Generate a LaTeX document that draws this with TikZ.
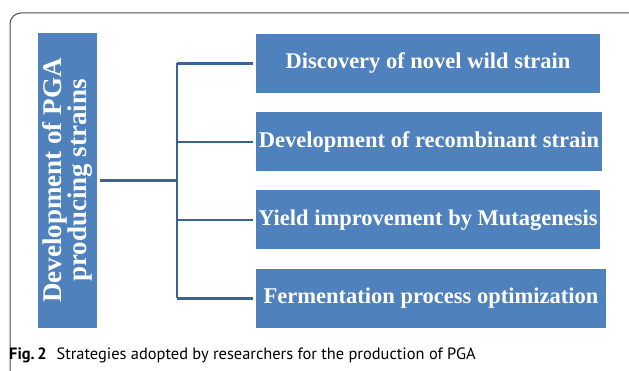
\documentclass[tikz,border=0pt]{standalone}
\usepackage{fontspec}
\setmainfont{Liberation Serif}
\newfontfamily\capfont{PT Sans}
\definecolor{boxblue}{HTML}{4F81BD}
\definecolor{linkblue}{HTML}{3B6496}
\begin{document}
\begin{tikzpicture}[x=1pt, y=1pt, line join=round,
	box/.style={fill=boxblue, text=white, inner sep=0pt, minimum height=59, font=\bfseries\fontsize{22.5}{25}\selectfont},
	link/.style={draw=linkblue, line width=2.6pt},
	frame/.style={draw=black!70, line width=1pt, rounded corners=11pt}]
	\useasboundingbox (0,0) rectangle (629,371);
	\draw[frame] (10,-20) -- (10,358) -- (640,358) -- (640,-20);
	\node[box, rotate=90, minimum width=295, align=center, font=\bfseries\fontsize{27}{25}\selectfont] (root) at (67.5,190.5) {Development of PGA\\producing strains};
	\node[box, minimum width=344] (wild) at (428,307.5) {Discovery of novel wild strain};
	\node[box, minimum width=346] (recomb) at (429,229) {Development of recombinant strain};
	\node[box, minimum width=344] (mutag) at (428,151) {Yield improvement by Mutagenesis};
	\node[box, minimum width=350] (ferm) at (431,72.5) {Fermentation process optimization};
	\coordinate (fork) at (177,190.5);
	\draw[link] ([xshift=3]root.south) -- (fork);
	\draw[link] (fork |- wild.west) -- (fork |- ferm.west);
	\foreach \b in {wild,recomb,mutag,ferm}
		\draw[link] (fork |- \b.west) -- ([xshift=-3]\b.west);
	\node[anchor=base west, inner sep=0pt, font=\capfont\fontsize{16.4}{19}\selectfont] (caption) at (9,11) {\textbf{Fig.\,2}\hspace{0.6em}Strategies adopted by researchers for the production of PGA};
\end{tikzpicture}
\end{document}
